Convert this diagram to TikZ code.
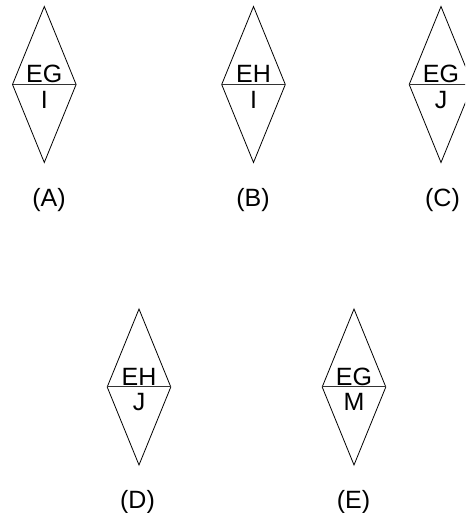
\documentclass[tikz,border=0pt]{standalone}
\usepackage{fontspec}
\setmainfont{Liberation Sans}
\begin{document}
\begin{tikzpicture}[x=1pt,y=1pt,
  gem/.style={draw=black,line width=0.8pt,line join=miter},
  midline/.style={draw=black!80,line width=1pt},
  lbl/.style={font=\fontsize{25}{30}\selectfont,inner sep=0pt,anchor=base}]
\useasboundingbox (0,0) rectangle (465,513);
\clip (0,0) rectangle (465,513);
\foreach \n/\cx/\cy/\up/\dn/\lx in {A/44.3/428.5/EG/I/49,
                                      B/253.5/428.5/EH/I/253,
                                      C/441/428.5/EG/J/442.5,
                                      D/139/126/EH/J/137.5,
                                      E/354/126/EG/M/353.5}{
  \coordinate (\n-t) at (\cx,\cy+78);
  \coordinate (\n-b) at (\cx,\cy-78);
  \coordinate (\n-l) at (\cx-31.8,\cy);
  \coordinate (\n-r) at (\cx+31.8,\cy);
  \draw[gem] (\n-t) -- (\n-r) -- (\n-b) -- (\n-l) -- cycle;
  \draw[midline] (\n-l) -- (\n-r);
  \node[lbl] (up\n) at (\cx,\cy+1.5) {\up};
  \node[lbl] (dn\n) at (\cx,\cy-23.8) {\dn};
  \node[lbl] (lab\n) at (\lx,\cy-78-43.8) {(\n)};
}
\end{tikzpicture}
\end{document}
